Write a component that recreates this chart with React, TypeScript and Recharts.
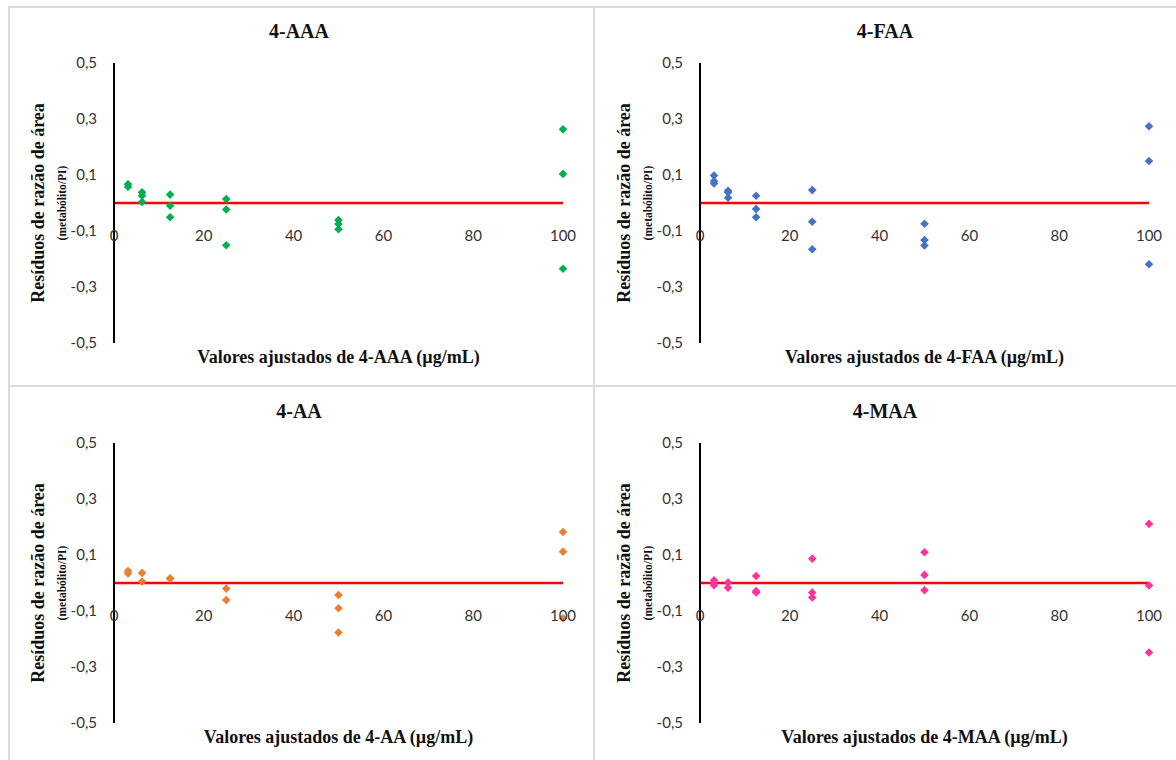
import React from "react"
import {
  ScatterChart,
  Scatter,
  XAxis,
  YAxis,
  ReferenceLine,
} from "recharts"

// concentration levels (µg/mL)
const LEVELS = [3.125, 6.25, 12.5, 25, 50, 100]

// residuals per level
const AAA_RES = [
  [0.067, 0.058],
  [0.038, 0.026, 0.004],
  [0.03, -0.01, -0.051],
  [0.014, -0.023, -0.151],
  [-0.061, -0.075, -0.094],
  [0.263, 0.104, -0.235],
]
const FAA_RES = [
  [0.098, 0.078, 0.07],
  [0.044, 0.038, 0.019],
  [0.026, -0.021, -0.051],
  [0.046, -0.067, -0.165],
  [-0.074, -0.132, -0.152],
  [0.274, 0.15, -0.219],
]
const AA_RES = [
  [0.043, 0.034],
  [0.036, 0.005],
  [0.015, 0.017],
  [-0.02, -0.061],
  [-0.043, -0.09, -0.177],
  [0.182, 0.112, -0.126],
]
const MAA_RES = [
  [0.01, 0.0, -0.008],
  [0.002, -0.017],
  [0.025, -0.029, -0.034],
  [0.087, -0.034, -0.052],
  [0.11, 0.029, -0.026],
  [0.211, -0.009, -0.248],
]

const Y_TICKS = [-0.5, -0.3, -0.1, 0.1, 0.3, 0.5]
const X_TICKS = [0, 20, 40, 60, 80, 100]

const PANELS = [
  { name: "4-AAA", color: "#00B050", res: AAA_RES },
  { name: "4-FAA", color: "#4472C4", res: FAA_RES },
  { name: "4-AA", color: "#ED7D31", res: AA_RES },
  { name: "4-MAA", color: "#FF3399", res: MAA_RES },
]

const toPoints = (res: number[][]) =>
  res.flatMap((vals, i) => vals.map((y) => ({ x: LEVELS[i], y })))

const CHART_W = 582
const CHART_H = 380
const SERIF = "Liberation Serif, DejaVu Serif, serif"
const SANS = "Lato, Open Sans, sans-serif"

const Diamond = (props: any) => {
  const { cx, cy, fill } = props
  if (cx == null || cy == null) return null
  const r = 4.3
  return (
    <path
      d={`M${cx},${cy - r}L${cx + r},${cy}L${cx},${cy + r}L${cx - r},${cy}Z`}
      fill={fill}
    />
  )
}

// x tick labels sit on the zero line, like the Excel original
const XTick = (props: any) => {
  const { x, y, payload } = props
  return (
    <text
      x={x}
      y={y - 116}
      textAnchor="middle"
      dominantBaseline="central"
      style={{ fontFamily: SANS }}
      fontSize={15}
      fill="#333"
    >
      {payload.value}
    </text>
  )
}

function Panel({ name, color, res }: { name: string; color: string; res: number[][] }) {
  const data = toPoints(res)
  return (
    <div style={{ position: "relative", width: CHART_W, height: CHART_H }}>
      <div
        style={{
          position: "absolute",
          top: 18,
          left: 0,
          width: CHART_W,
          textAlign: "center",
          fontFamily: SERIF,
          fontWeight: "bold",
          fontSize: 20,
          lineHeight: "14px",
          color: "#111",
        }}
      >
        {name}
      </div>
      <ScatterChart
        width={CHART_W}
        height={CHART_H}
        margin={{ top: 57, right: 27, left: 0, bottom: 23 }}
      >
        <XAxis
          type="number"
          dataKey="x"
          domain={[0, 100]}
          ticks={X_TICKS}
          axisLine={false}
          tickLine={false}
          height={20}
          tick={<XTick />}
          label={{
            content: (p: any) => {
              const vb = p.viewBox || {}
              return (
                <text
                  x={vb.x + vb.width / 2}
                  y={vb.y + 20}
                  textAnchor="middle"
                  style={{ fontFamily: SERIF, fontWeight: "bold" }}
                  fontSize={18}
                  fill="#111"
                >
                  {`Valores ajustados de ${name} (µg/mL)`}
                </text>
              )
            },
          }}
        />
        <YAxis
          type="number"
          dataKey="y"
          domain={[-0.5, 0.5]}
          ticks={Y_TICKS}
          width={106}
          axisLine={{ stroke: "#000", strokeWidth: 2 }}
          tickLine={false}
          tickSize={8}
          tickMargin={9}
          tick={{ fontFamily: SANS, fontSize: 15, fill: "#333" }}
          tickFormatter={(v: number) => v.toFixed(1).replace(".", ",")}
          label={{
            content: (p: any) => {
              const vb = p.viewBox || {}
              const cy = vb.y + vb.height / 2
              return (
                <g>
                  <text
                    x={30}
                    y={cy}
                    transform={`rotate(-90, 30, ${cy})`}
                    textAnchor="middle"
                    dominantBaseline="central"
                    style={{ fontFamily: SERIF, fontWeight: "bold" }}
                    fontSize={18}
                    fill="#111"
                  >
                    Resíduos de razão de área
                  </text>
                  <text
                    x={54}
                    y={cy}
                    transform={`rotate(-90, 54, ${cy})`}
                    textAnchor="middle"
                    dominantBaseline="central"
                    style={{ fontFamily: SERIF, fontWeight: "bold" }}
                    fontSize={11.5}
                    fill="#111"
                  >
                    (metabólito/PI)
                  </text>
                </g>
              )
            },
          }}
        />
        <ReferenceLine y={0} stroke="#FF0000" strokeWidth={2.5} />
        <Scatter
          data={data}
          fill={color}
          shape={<Diamond />}
          isAnimationActive={false}
        />
      </ScatterChart>
    </div>
  )
}

const LINE = "#dcdcdc"

export default function App() {
  return (
    <div
      style={{
        position: "absolute",
        left: 0,
        top: 0,
        width: 1176,
        height: 760,
        overflow: "hidden",
        background: "#fff",
      }}
    >
      {/* frame lines between the four panels */}
      <div style={{ position: "absolute", left: 8, top: 6, width: 2, height: 754, background: LINE }} />
      <div style={{ position: "absolute", left: 8, top: 6, width: 1168, height: 2, background: LINE }} />
      <div style={{ position: "absolute", left: 593, top: 6, width: 2, height: 754, background: LINE }} />
      <div style={{ position: "absolute", left: 8, top: 385, width: 1168, height: 2, background: LINE }} />

      <div style={{ position: "absolute", left: 8, top: 6 }}>
        <Panel {...PANELS[0]} />
      </div>
      <div style={{ position: "absolute", left: 594, top: 6 }}>
        <Panel {...PANELS[1]} />
      </div>
      <div style={{ position: "absolute", left: 8, top: 386 }}>
        <Panel {...PANELS[2]} />
      </div>
      <div style={{ position: "absolute", left: 594, top: 386 }}>
        <Panel {...PANELS[3]} />
      </div>
    </div>
  )
}
